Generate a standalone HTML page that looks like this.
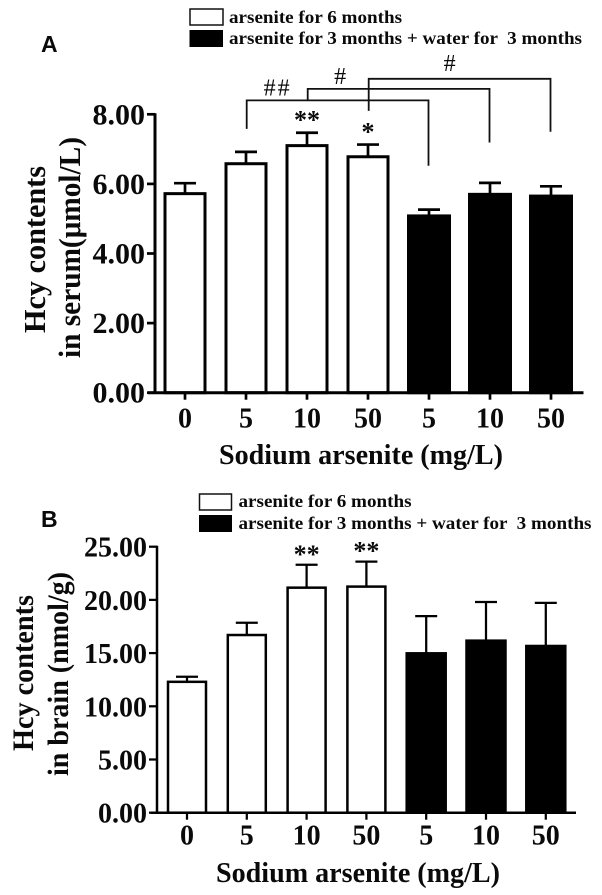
<!DOCTYPE html>
<html>
<head>
<meta charset="utf-8">
<style>
html,body{margin:0;padding:0;background:#fff;}
svg{display:block;}
text{font-family:"Liberation Serif",serif;font-weight:bold;fill:#0a0a0a;}
.lg{font-size:18px;}
.ttl{font-size:29px;}
.pl{font-family:"Liberation Sans",sans-serif;font-size:23px;}
</style>
</head>
<body>
<svg id="fig" width="602" height="895" viewBox="0 0 602 895" xmlns="http://www.w3.org/2000/svg">
  <text class="pl" x="41" y="52">A</text>
  <rect x="190" y="9" width="33" height="16" fill="#fff" stroke="#111" stroke-width="1.5"/>
  <text class="lg" x="229" y="23" textLength="173" lengthAdjust="spacingAndGlyphs">arsenite for 6 months</text>
  <rect x="189.5" y="30" width="33.5" height="17" fill="#000"/>
  <text class="lg" x="229" y="44" textLength="353" lengthAdjust="spacingAndGlyphs" xml:space="preserve">arsenite for 3 months + water for  3 months</text>
  <text class="ttl" transform="translate(45,333) rotate(-90)" textLength="167" lengthAdjust="spacingAndGlyphs" style="font-size:31px">Hcy contents</text>
  <text class="ttl" transform="translate(80,358) rotate(-90)" textLength="221" lengthAdjust="spacingAndGlyphs" style="font-size:31px">in serum(μmol/L)</text>
  <text class="ttl" x="219" y="464" textLength="284" lengthAdjust="spacingAndGlyphs">Sodium arsenite (mg/L)</text>

  <text class="pl" x="41" y="527">B</text>
  <rect x="199.5" y="494" width="32" height="16" fill="#fff" stroke="#111" stroke-width="1.5"/>
  <text class="lg" x="238.5" y="507" textLength="173" lengthAdjust="spacingAndGlyphs">arsenite for 6 months</text>
  <rect x="199" y="515" width="33" height="17" fill="#000"/>
  <text class="lg" x="238.5" y="529" textLength="353" lengthAdjust="spacingAndGlyphs" xml:space="preserve">arsenite for 3 months + water for  3 months</text>
  <text class="ttl" transform="translate(33,751) rotate(-90)" textLength="156" lengthAdjust="spacingAndGlyphs" style="font-size:30px">Hcy contents</text>
  <text class="ttl" transform="translate(68,776) rotate(-90)" textLength="204" lengthAdjust="spacingAndGlyphs" style="font-size:30px">in brain (nmol/g)</text>
  <text class="ttl" x="216" y="882" textLength="284" lengthAdjust="spacingAndGlyphs">Sodium arsenite (mg/L)</text>
</svg>
<script>
var categories = ["0", "5", "10", "50", "5", "10", "50"];
var groupFill = ["white", "white", "white", "white", "black", "black", "black"];

var serumMeans = [5.72, 6.58, 7.10, 6.78, 5.08, 5.70, 5.65];
var serumErrors = [0.30, 0.34, 0.37, 0.35, 0.18, 0.33, 0.28];
var serumTicks = [0, 2, 4, 6, 8];
var serumTickLabels = ["0.00", "2.00", "4.00", "6.00", "8.00"];
var serumStars = ["", "", "**", "*", "", "", ""];

var brainMeans = [12.3, 16.7, 21.15, 21.25, 14.98, 16.17, 15.67];
var brainErrors = [0.48, 1.15, 2.15, 2.35, 3.5, 3.63, 4.05];
var brainTicks = [0, 5, 10, 15, 20, 25];
var brainTickLabels = ["0.00", "5.00", "10.00", "15.00", "20.00", "25.00"];
var brainStars = ["", "", "**", "**", "", "", ""];

var bracketFrom = [1, 2, 3];
var bracketTo = [4, 5, 6];
var bracketLevel = [8.40, 8.73, 9.02];
var bracketLeftEnd = [7.58, 8.40, 8.10];
var bracketRightEnd = [6.52, 7.19, 7.50];
var bracketLabels = ["##", "#", "#"];

var NS = "http://www.w3.org/2000/svg";
var fig = document.getElementById("fig");

function make(tag, attrs) {
  var el = document.createElementNS(NS, tag);
  for (var k in attrs) el.setAttribute(k, attrs[k]);
  fig.appendChild(el);
  return el;
}

function drawPanel(p) {
  var yScale = function (v) { return p.y0 - v * p.unit; };
  var xScale = function (i) { return p.x0 + i * p.step; };
  var top = yScale(p.ticks[p.ticks.length - 1]);

  p.means.forEach(function (m, i) {
    var cx = xScale(i), isBlack = groupFill[i] === "black", w = p.barW + (isBlack ? 1 : 0);
    var x = cx - w / 2, ty = yScale(m), ey = yScale(m + p.errors[i]);
    var stem = make("line", { x1: cx, x2: cx, y1: ty, y2: ey, stroke: "#000", "stroke-width": p.sw * 0.9 });
    
    
    var cap = make("line", { x1: cx - 11, x2: cx + 11, y1: ey, y2: ey, stroke: "#000", "stroke-width": p.sw * 0.9 });
    
    
    var bar = make("rect", { x: x, y: ty, width: w, height: p.y0 - ty, fill: isBlack ? "#000" : "#fff", stroke: "#000", "stroke-width": p.sw });
    
    
    if (p.stars[i]) {
      var star = make("text", { x: cx, y: ey - p.starGap, "text-anchor": "middle", "font-size": 26 });
      star.textContent = p.stars[i];
      
      
    }
  });

  var yAxis = make("line", { x1: p.axisX, x2: p.axisX, y1: top - 1, y2: p.y0 + 1, stroke: "#000", "stroke-width": p.sw });
  
  
  var xAxis = make("line", { x1: p.xStart, x2: p.xEnd, y1: p.y0, y2: p.y0, stroke: "#000", "stroke-width": p.sw });
  
  

  p.ticks.forEach(function (t, i) {
    var tick = make("line", { x1: p.axisX - 8, x2: p.axisX, y1: yScale(t), y2: yScale(t), stroke: "#000", "stroke-width": p.sw * 0.9 });
    
    
    var label = make("text", { x: p.axisX - 10, y: yScale(t) + 10, "text-anchor": "end", "font-size": p.tickFont });
    label.textContent = p.tickLabels[i];
    
    
  });

  categories.forEach(function (c, i) {
    var cx = xScale(i);
    var tick = make("line", { x1: cx, x2: cx, y1: p.y0, y2: p.y0 + 7, stroke: "#000", "stroke-width": p.sw * 0.9 });
    
    
    var label = make("text", { x: cx, y: p.y0 + p.catGap, "text-anchor": "middle", "font-size": 28 });
    label.textContent = c;
    
    
  });
  return { x: xScale, y: yScale };
}

var serumScales = drawPanel({
  y0: 392.7, unit: 34.8, x0: 185, step: 61, barW: 40, sw: 3, axisX: 155, xStart: 148, xEnd: 583.5,
  means: serumMeans, errors: serumErrors, ticks: serumTicks, tickLabels: serumTickLabels,
  stars: serumStars, starGap: 4, tickFont: 30, catGap: 35
});

drawPanel({
  y0: 812.7, unit: 10.64, x0: 187, step: 59.8, barW: 38, sw: 2.5, axisX: 157, xStart: 151, xEnd: 576,
  means: brainMeans, errors: brainErrors, ticks: brainTicks, tickLabels: brainTickLabels,
  stars: brainStars, starGap: 2, tickFont: 28, catGap: 32
});

bracketFrom.forEach(function (from, i) {
  var lx = serumScales.x(from) + 0.7, rx = serumScales.x(bracketTo[i]) - 0.5, ly = serumScales.y(bracketLevel[i]);
  var path = make("path", {
    d: "M" + lx + " " + serumScales.y(bracketLeftEnd[i]) + "V" + ly + "H" + rx + "V" + serumScales.y(bracketRightEnd[i]),
    fill: "none", stroke: "#111", "stroke-width": 1.8
  });
  
  
  var label = make("text", {
    x: (lx + rx) / 2 - (i === 0 ? 60 : (i === 1 ? 58.5 : 10)), y: ly - (i === 2 ? 8 : 5),
    "text-anchor": "middle", "font-size": 24, "letter-spacing": i === 0 ? 2 : 0, style: "font-weight:normal"
  });
  label.textContent = bracketLabels[i];
  
  
});
</script>
</body>
</html>
